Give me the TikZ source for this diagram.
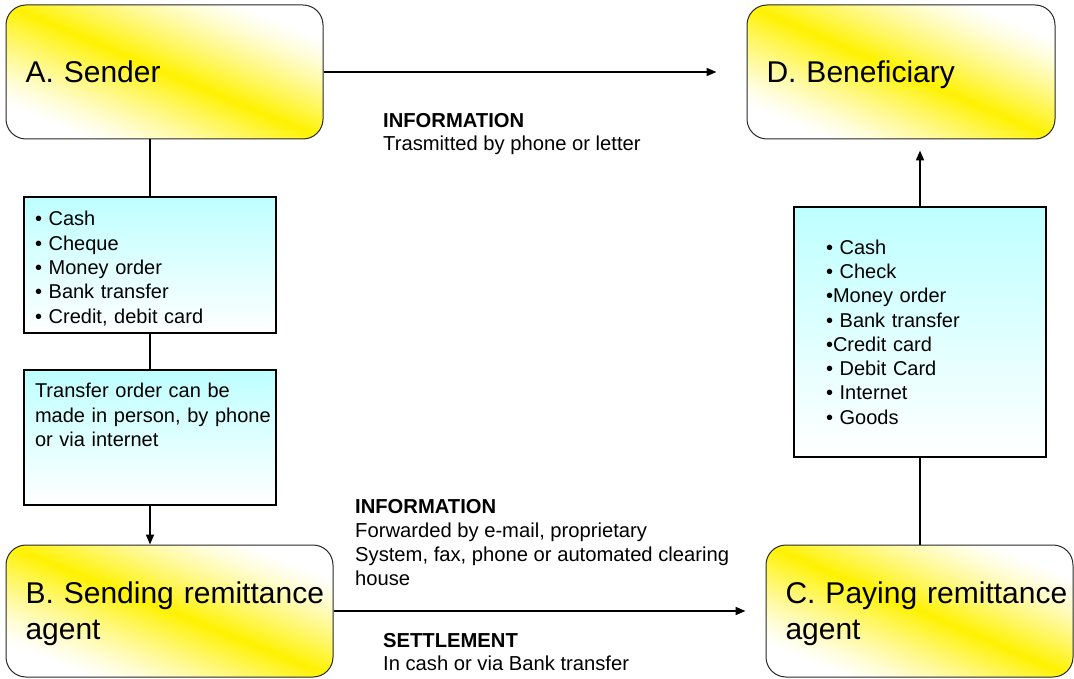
\documentclass[tikz,border=0pt]{standalone}
\usepackage{fontspec}
\setmainfont{Liberation Sans}
\usetikzlibrary{arrows.meta}
\definecolor{boxcyan}{RGB}{190,255,255}
\definecolor{edgegray}{RGB}{40,40,40}
\hfuzz=200pt
\hbadness=10000
% white-yellow-white band running along the box diagonal (top left to bottom right),
% built from thin strips; u,v are normalised box coordinates (v upwards)
\tikzset{
  yellowband/.style={path picture={
    \pgfpointanchor{path picture bounding box}{south west}\pgfgetlastxy{\bxa}{\bya}
    \pgfpointanchor{path picture bounding box}{north east}\pgfgetlastxy{\bxb}{\byb}
    \pgfmathsetmacro\xc{(\bxa+\bxb)/2}
    \pgfmathsetmacro\yc{(\bya+\byb)/2}
    \pgfmathsetmacro\hw{(\bxb-\bxa)/2}
    \pgfmathsetmacro\hh{(\byb-\bya)/2}
    \pgfmathsetmacro\Ylo{\yc-3*\hh}
    \pgfmathsetmacro\Yhi{\yc+3*\hh}
    \foreach \i in {0,...,79}{
      \pgfmathsetmacro\sa{-1.2+2.4*\i/80}
      \pgfmathsetmacro\sb{\sa+2.4/80+0.01}
      \pgfmathsetmacro\f{(max(0,1-abs(\sa+1.2/80)/0.75))^1.3*100}
      \pgfmathsetmacro\Xoa{\xc+(2*\sa+3)*\hw}
      \pgfmathsetmacro\Xta{\xc+(2*\sa-3)*\hw}
      \pgfmathsetmacro\Xob{\xc+(2*\sb+3)*\hw}
      \pgfmathsetmacro\Xtb{\xc+(2*\sb-3)*\hw}
      \fill[yellow!\f!white] (\Xoa pt,\Ylo pt) -- (\Xta pt,\Yhi pt) -- (\Xtb pt,\Yhi pt) -- (\Xob pt,\Ylo pt) -- cycle;
    }}}
}
\begin{document}
\begin{tikzpicture}[x=1pt,y=-1pt,
  party/.style={draw=edgegray, line width=1pt, rounded corners=20pt,
    yellowband, align=left, inner xsep=19.5pt, inner ysep=0pt,
    font=\fontsize{30}{36}\selectfont},
  infobox/.style={draw=black, line width=1.6pt, top color=boxcyan, bottom color=white,
    align=left, inner ysep=0pt, font=\fontsize{20}{24.3}\selectfont},
  flow/.style={line width=1.8pt, draw=black},
  flowarrow/.style={flow, -{Triangle[length=10pt,width=8pt]}},
  note/.style={align=left, inner sep=0pt, anchor=north west,
    font=\fontsize{20.2}{23.5}\selectfont}
]
\useasboundingbox (0,0) rectangle (1074,679);

% parties
\node[party, minimum width=317pt, minimum height=134pt, text width=278pt, text depth=0pt]
  (A) at (164.5,72) {A. Sender};
\node[party, minimum width=308pt, minimum height=134pt, text width=269pt, text depth=0pt]
  (D) at (901,72) {D. Beneficiary};
\node[party, minimum width=327pt, minimum height=132pt, text width=288pt, text depth=36pt]
  (B) at (169.5,611) {\mbox{B. Sending remittance}\\agent};
\node[party, minimum width=307pt, minimum height=132pt, text width=268pt, text depth=36pt]
  (C) at (919.5,611) {\mbox{C. Paying remittance}\\agent};

% payment instruments and ordering channels
\node[infobox, minimum width=252pt, minimum height=136pt, text width=230pt, inner xsep=11pt, text depth=92.6pt]
  (s1) at (150,265) {• Cash\\• Cheque\\• Money order\\• Bank transfer\\• Credit, debit card};
\node[infobox, minimum width=252pt, minimum height=135pt, text width=230pt, inner xsep=11pt, text depth=93.6pt]
  (s2) at (150,437.5) {\mbox{Transfer order can be}\\\mbox{made in person, by phone}\\or via internet};
\node[infobox, minimum width=252pt, minimum height=250pt, text width=188pt, inner xsep=32pt, text depth=170.1pt]
  (s3) at (920,332) {• Cash\\• Check\\•Money order\\• Bank transfer\\•Credit card\\• Debit Card\\• Internet\\• Goods};

% flows
\draw[flow] (A.south -| s1.north) -- (s1.north);
\draw[flow] (s1.south) -- (s2.north);
\draw[flowarrow] (s2.south) -- (s2.south |- B.north);
\draw[flow] (C.north -| s3.south) -- (s3.south);
\draw[flowarrow, shorten >=11pt] (s3.north) -- (s3.north |- D.south);
\draw[flowarrow, shorten >=30pt] (A.east) -- (D.west);
\draw[flowarrow, shorten >=20pt] (B.east) -- (C.west);

% flow annotations
\node[note] (infoTop) at (383,112.7) {\textbf{INFORMATION}\\Trasmitted by phone or letter};
\node[note, font=\fontsize{20.2}{24.2}\selectfont] (infoBottom) at (355,498.7)
  {\textbf{INFORMATION}\\Forwarded by e-mail, proprietary\\System, fax, phone or automated clearing\\house};
\node[note] (settle) at (383,632.7) {\textbf{SETTLEMENT}\\In cash or via Bank transfer};
\end{tikzpicture}
\end{document}
